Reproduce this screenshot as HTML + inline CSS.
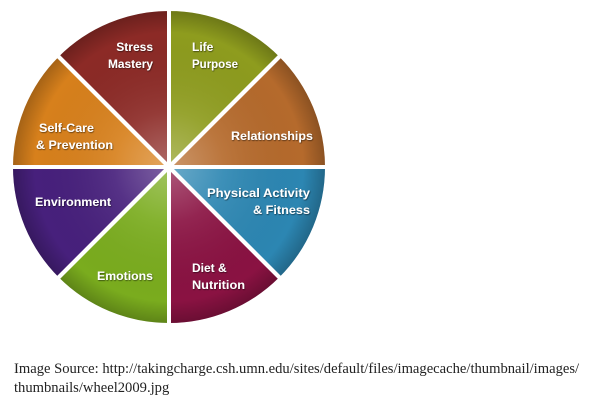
<!DOCTYPE html>
<html><head><style>
html,body{margin:0;padding:0;background:#fff;width:602px;height:401px;overflow:hidden}
.cap{position:absolute;left:14px;font-family:"Liberation Serif",serif;font-size:14.6px;color:#222;white-space:nowrap}
</style></head><body>
<svg width="602" height="340" style="position:absolute;left:0;top:0" xmlns="http://www.w3.org/2000/svg">
<defs>
<radialGradient id="gl" cx="169" cy="167" r="158" gradientUnits="userSpaceOnUse">
<stop offset="0" stop-color="#fff" stop-opacity="0.3"/>
<stop offset="0.35" stop-color="#fff" stop-opacity="0.08"/>
<stop offset="0.85" stop-color="#000" stop-opacity="0"/>
<stop offset="1" stop-color="#000" stop-opacity="0.25"/>
</radialGradient>
<filter id="sh"><feDropShadow dx="0.6" dy="0.8" stdDeviation="0.6" flood-color="#000" flood-opacity="0.6"/></filter>
</defs>
<g stroke="#fff" stroke-width="4" stroke-linejoin="round">
<path d="M169,167 L169,9 A158,158 0 0 1 280.7,55.3 Z" fill="#8e9c1e"/>
<path d="M169,167 L280.7,55.3 A158,158 0 0 1 327,167 Z" fill="#b56a2c"/>
<path d="M169,167 L327,167 A158,158 0 0 1 280.7,278.7 Z" fill="#2c86b2"/>
<path d="M169,167 L280.7,278.7 A158,158 0 0 1 169,325 Z" fill="#8a1242"/>
<path d="M169,167 L169,325 A158,158 0 0 1 57.3,278.7 Z" fill="#7aac1e"/>
<path d="M169,167 L57.3,278.7 A158,158 0 0 1 11,167 Z" fill="#47207c"/>
<path d="M169,167 L11,167 A158,158 0 0 1 57.3,55.3 Z" fill="#d7801c"/>
<path d="M169,167 L57.3,55.3 A158,158 0 0 1 169,9 Z" fill="#8c2a26"/>
</g>
<circle cx="169" cy="167" r="156" fill="url(#gl)"/>
<g stroke="#fff" stroke-width="4">
<line x1="169" y1="9" x2="169" y2="325"/><line x1="11" y1="167" x2="327" y2="167"/>
<line x1="57.3" y1="55.3" x2="280.7" y2="278.7"/><line x1="280.7" y1="55.3" x2="57.3" y2="278.7"/>
</g>
<g font-family="'Liberation Sans',sans-serif" font-weight="bold" font-size="12" fill="#fff" filter="url(#sh)" lengthAdjust="spacingAndGlyphs">
<text x="153" y="51" text-anchor="end">Stress</text>
<text x="153" y="68" text-anchor="end" textLength="45" lengthAdjust="spacingAndGlyphs">Mastery</text>
<text x="192" y="51">Life</text>
<text x="192" y="68" textLength="46" lengthAdjust="spacingAndGlyphs">Purpose</text>
<text x="231" y="140" textLength="82" lengthAdjust="spacingAndGlyphs">Relationships</text>
<text x="207" y="197" textLength="103" lengthAdjust="spacingAndGlyphs">Physical Activity</text>
<text x="253" y="214" textLength="57" lengthAdjust="spacingAndGlyphs">&amp; Fitness</text>
<text x="192" y="272">Diet &amp;</text>
<text x="192" y="289" textLength="53" lengthAdjust="spacingAndGlyphs">Nutrition</text>
<text x="97" y="280" textLength="56" lengthAdjust="spacingAndGlyphs">Emotions</text>
<text x="35" y="206" textLength="76" lengthAdjust="spacingAndGlyphs">Environment</text>
<text x="39" y="132" textLength="55" lengthAdjust="spacingAndGlyphs">Self-Care</text>
<text x="36" y="149" textLength="77" lengthAdjust="spacingAndGlyphs">&amp; Prevention</text>
</g>
</svg>
<div class="cap" style="top:361px">Image Source: http://takingcharge.csh.umn.edu/sites/default/files/imagecache/thumbnail/images/</div>
<div class="cap" style="top:380px">thumbnails/wheel2009.jpg</div>
</body></html>
